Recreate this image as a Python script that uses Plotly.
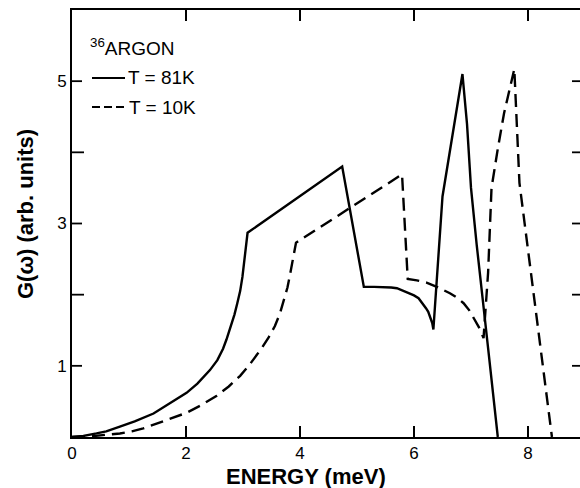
import plotly.graph_objects as go

# T = 81 K (solid)
energy_81 = [0, 0.20, 0.43, 0.60, 0.84, 1.10, 1.43, 1.70, 2.01, 2.20, 2.42, 2.55,
             2.65, 2.71, 2.78, 2.85, 2.90, 2.95, 2.99, 3.03, 3.06, 3.08,
             4.74, 5.12, 5.30, 5.45, 5.60, 5.70, 5.80, 5.90, 6.00, 6.08, 6.15,
             6.21, 6.25, 6.29, 6.32, 6.34,
             6.50, 6.85, 6.93, 7.00, 7.10, 7.30, 7.47]
g_81 = [0, 0.015, 0.05, 0.08, 0.145, 0.22, 0.33, 0.46, 0.62, 0.75, 0.94, 1.08,
        1.24, 1.37, 1.53, 1.72, 1.88, 2.05, 2.25, 2.50, 2.68, 2.87,
        3.80, 2.11, 2.11, 2.11, 2.10, 2.09, 2.06, 2.03, 1.99, 1.95, 1.88,
        1.81, 1.76, 1.68, 1.60, 1.51,
        3.38, 5.10, 4.40, 3.50, 2.70, 1.25, 0]

# T = 10 K (dashed)
energy_10 = [0, 0.40, 0.84, 1.05, 1.25, 1.50, 1.78, 2.01, 2.25, 2.54, 2.75, 2.95,
             3.10, 3.21, 3.33, 3.45, 3.56, 3.65, 3.72, 3.78, 3.82, 3.87, 3.93,
             5.79, 5.89, 6.05, 6.22, 6.40, 6.55, 6.63, 6.75, 6.87, 6.97, 7.07,
             7.14, 7.19, 7.22,
             7.30, 7.33, 7.36, 7.47, 7.58, 7.76, 7.80, 7.85, 8.42]
g_10 = [0, 0.015, 0.05, 0.08, 0.12, 0.19, 0.27, 0.34, 0.44, 0.58, 0.71, 0.86,
        1.00, 1.12, 1.25, 1.40, 1.56, 1.74, 1.92, 2.10, 2.26, 2.47, 2.73,
        3.69, 2.22, 2.20, 2.17, 2.11, 2.05, 2.02, 1.96, 1.88, 1.78, 1.65,
        1.54, 1.45, 1.39,
        2.31, 2.80, 3.50, 4.05, 4.55, 5.17, 4.44, 3.57, 0]

x_ticks = [0, 2, 4, 6, 8]
y_labeled = [1, 3, 5]
y_minor = [2, 4]
y_tick_marks = [1, 2, 3, 4, 5]

FONT = "Liberation Sans, Arial, Helvetica, sans-serif"
L, R, T, B = 72, 0, 10, 51
W, H = 580, 488
PW = W - L - R
PH = H - T - B
PX_PER_UNIT = 57.0
TICK_COLOR = "black"
TICK_W = 1.8

def px(xp):
    return (xp - L) / PW

def py(yp):
    return (T + PH - yp) / PH

fig = go.Figure()
fig.add_trace(go.Scatter(x=energy_81, y=g_81, mode="lines",
                         line=dict(color="black", width=2.4),
                         showlegend=False))
fig.add_trace(go.Scatter(x=energy_10, y=g_10, mode="lines",
                         line=dict(color="black", width=2.4, dash="13px,7px"),
                         showlegend=False))

fig.update_layout(
    width=W, height=H,
    margin=dict(l=L, r=R, t=T, b=B),
    paper_bgcolor="white", plot_bgcolor="white",
    font=dict(family=FONT, color="black", size=17),
    xaxis=dict(range=[0, PW / PX_PER_UNIT], tickmode="array", tickvals=x_ticks,
               ticktext=[str(v) for v in x_ticks],
               ticks="inside", ticklen=11, tickwidth=TICK_W, tickcolor=TICK_COLOR,
               showline=True, linecolor="black", linewidth=2,
               mirror="ticks", showgrid=False, zeroline=False,
               tickfont=dict(size=17)),
    yaxis=dict(range=[0, 6], tickmode="array", tickvals=y_labeled,
               ticktext=[str(v) for v in y_labeled],
               ticks="", showline=True, linecolor="black", linewidth=2,
               mirror=False, showgrid=False, zeroline=False,
               tickfont=dict(size=17)),
)

annotations = [
    dict(text="ENERGY (meV)", x=px(306), y=py(476), xref="paper", yref="paper",
         xanchor="center", yanchor="middle", showarrow=False,
         font=dict(size=22, family=FONT, weight="bold")),
    dict(text="G(ω) (arb. units)", x=px(25), y=py(214), xref="paper", yref="paper",
         xanchor="center", yanchor="middle", showarrow=False, textangle=-90,
         font=dict(size=22, family=FONT, weight="bold")),
    dict(text="<sup>36</sup>ARGON", x=px(88), y=py(47), xref="paper", yref="paper",
         xanchor="left", yanchor="middle", showarrow=False,
         font=dict(size=19, family=FONT)),
    dict(text="T = 81K", x=px(126), y=py(78), xref="paper", yref="paper",
         xanchor="left", yanchor="middle", showarrow=False,
         font=dict(size=19, family=FONT)),
    dict(text="T = 10K", x=px(127), y=py(107), xref="paper", yref="paper",
         xanchor="left", yanchor="middle", showarrow=False,
         font=dict(size=19, family=FONT)),
]
fig.update_layout(annotations=annotations)

shapes = [
    dict(type="line", xref="paper", yref="paper", x0=px(92), x1=px(125),
         y0=py(78), y1=py(78), line=dict(color="black", width=2.2)),
    dict(type="line", xref="paper", yref="paper", x0=px(92), x1=px(127),
         y0=py(107), y1=py(107), line=dict(color="black", width=2.2, dash="8px,4px")),
]
# left ticks (inside)
for yv in y_labeled:
    shapes.append(dict(type="line", xref="paper", yref="y", y0=yv, y1=yv,
                       x0=0, x1=10 / PW,
                       line=dict(color=TICK_COLOR, width=TICK_W)))
for yv in y_minor:
    shapes.append(dict(type="line", xref="paper", yref="y", y0=yv, y1=yv,
                       x0=0, x1=12 / PW,
                       line=dict(color=TICK_COLOR, width=TICK_W)))
# right ticks (inside), no right axis line
for yv in y_tick_marks:
    shapes.append(dict(type="line", xref="paper", yref="y", y0=yv, y1=yv,
                       x0=1 - 8 / PW, x1=1,
                       line=dict(color=TICK_COLOR, width=TICK_W)))
fig.update_layout(shapes=shapes)

fig.write_html("out.html")
